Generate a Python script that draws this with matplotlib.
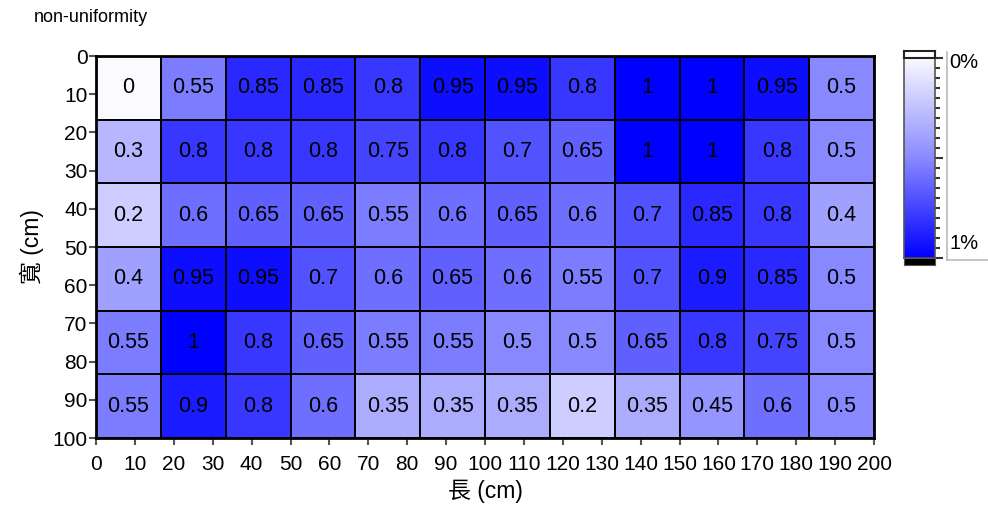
import numpy as np
import matplotlib
matplotlib.use("Agg")
import matplotlib.pyplot as plt
from matplotlib.colors import LinearSegmentedColormap

plt.rcParams['font.family'] = ['Liberation Sans', 'Noto Sans CJK TC', 'DejaVu Sans']

values = [
    [0, 0.55, 0.85, 0.85, 0.8, 0.95, 0.95, 0.8, 1, 1, 0.95, 0.5],
    [0.3, 0.8, 0.8, 0.8, 0.75, 0.8, 0.7, 0.65, 1, 1, 0.8, 0.5],
    [0.2, 0.6, 0.65, 0.65, 0.55, 0.6, 0.65, 0.6, 0.7, 0.85, 0.8, 0.4],
    [0.4, 0.95, 0.95, 0.7, 0.6, 0.65, 0.6, 0.55, 0.7, 0.9, 0.85, 0.5],
    [0.55, 1, 0.8, 0.65, 0.55, 0.55, 0.5, 0.5, 0.65, 0.8, 0.75, 0.5],
    [0.55, 0.9, 0.8, 0.6, 0.35, 0.35, 0.35, 0.2, 0.35, 0.45, 0.6, 0.5],
]
labels = [
    ["0", "0.55", "0.85", "0.85", "0.8", "0.95", "0.95", "0.8", "1", "1", "0.95", "0.5"],
    ["0.3", "0.8", "0.8", "0.8", "0.75", "0.8", "0.7", "0.65", "1", "1", "0.8", "0.5"],
    ["0.2", "0.6", "0.65", "0.65", "0.55", "0.6", "0.65", "0.6", "0.7", "0.85", "0.8", "0.4"],
    ["0.4", "0.95", "0.95", "0.7", "0.6", "0.65", "0.6", "0.55", "0.7", "0.9", "0.85", "0.5"],
    ["0.55", "1", "0.8", "0.65", "0.55", "0.55", "0.5", "0.5", "0.65", "0.8", "0.75", "0.5"],
    ["0.55", "0.9", "0.8", "0.6", "0.35", "0.35", "0.35", "0.2", "0.35", "0.45", "0.6", "0.5"],
]
x_edges = np.linspace(0, 200, 13)
y_edges = np.linspace(0, 100, 7)
x_ticks = list(range(0, 201, 10))
y_ticks = list(range(0, 101, 10))
cbar_labels = ["0%", "1%"]
title = "non-uniformity"
xlabel = "長 (cm)"
ylabel = "寬 (cm)"

cmap = LinearSegmentedColormap.from_list("wb", ["#fafaff", "#8a8aff", "#0000ff"])
cmap.set_over("black")
cmap.set_under("white")

W, H = 988, 511
fig = plt.figure(figsize=(W / 100, H / 100), dpi=100)

def ax_px(l, t, r, b):
    return [l / W, 1 - b / H, (r - l) / W, (b - t) / H]

ax = fig.add_axes(ax_px(96, 56, 874, 438))
data = np.array(values)
ax.pcolormesh(x_edges, y_edges, data, cmap=cmap, vmin=0, vmax=1,
              edgecolor="black", linewidth=1.1)
ax.set_xlim(0, 200)
ax.set_ylim(100, 0)
for i in range(data.shape[0]):
    for j in range(data.shape[1]):
        xc = (x_edges[j] + x_edges[j + 1]) / 2
        yc = (y_edges[i] + y_edges[i + 1]) / 2
        ax.text(xc, yc, labels[i][j], ha="center", va="center", fontsize=15.5, color="black")

ax.set_xticks(x_ticks)
ax.set_yticks(y_ticks)
ax.tick_params(axis="both", direction="out", width=1.5, color="#555555", labelsize=15)
ax.tick_params(axis="x", length=5, pad=7)
ax.tick_params(axis="y", length=5, pad=1)
for s in ax.spines.values():
    s.set_linewidth(2)
    s.set_color("black")
ax.set_xlabel(xlabel, fontsize=16.5, labelpad=4)
ax.set_ylabel(ylabel, fontsize=16.5, labelpad=6)
fig.text(34 / W, 1 - 17 / H, title, fontsize=13, ha="left", va="center")

# colorbar
cax = fig.add_axes(ax_px(904, 58, 935, 258))
grad = np.linspace(0, 1, 256).reshape(-1, 1)
cax.imshow(grad, aspect="auto", cmap=cmap, vmin=0, vmax=1, extent=[0, 1, 1, 0])
cax.set_xlim(0, 1)
cax.set_ylim(1, 0)
cax.set_xticks([])
cax.yaxis.tick_right()
cax.set_yticks([0, 0.5, 1])
cax.set_yticks(np.linspace(0, 1, 21), minor=True)
cax.tick_params(axis="y", which="major", length=6, width=1.5, color="#333333", labelright=False)
cax.tick_params(axis="y", which="minor", length=3.5, width=1.5, color="#333333")
for s in cax.spines.values():
    s.set_linewidth(1.2)
    s.set_color("#555555")
# extensions
top = fig.add_axes(ax_px(904, 51, 935, 58))
top.set_facecolor("white")
top.set_xticks([]); top.set_yticks([])
for s in top.spines.values():
    s.set_linewidth(1.5)
    s.set_color("#222222")
bot = fig.add_axes(ax_px(904, 258, 935, 265))
bot.set_facecolor("black")
bot.set_xticks([]); bot.set_yticks([])
for s in bot.spines.values():
    s.set_color("#555555")

# label box
lax = fig.add_axes(ax_px(947, 52, 988, 260))
lax.set_xlim(0, 1); lax.set_ylim(1, 0)
lax.set_xticks([]); lax.set_yticks([])
for k, s in lax.spines.items():
    s.set_color("#bbbbbb")
    s.set_linewidth(1.2)
    s.set_visible(k in ("left", "bottom"))
lax.text(0.06, 0.05, cbar_labels[0], fontsize=14.5, ha="left", va="center")
lax.text(0.06, 0.92, cbar_labels[1], fontsize=14.5, ha="left", va="center")

fig.savefig("out.png", dpi=100)
